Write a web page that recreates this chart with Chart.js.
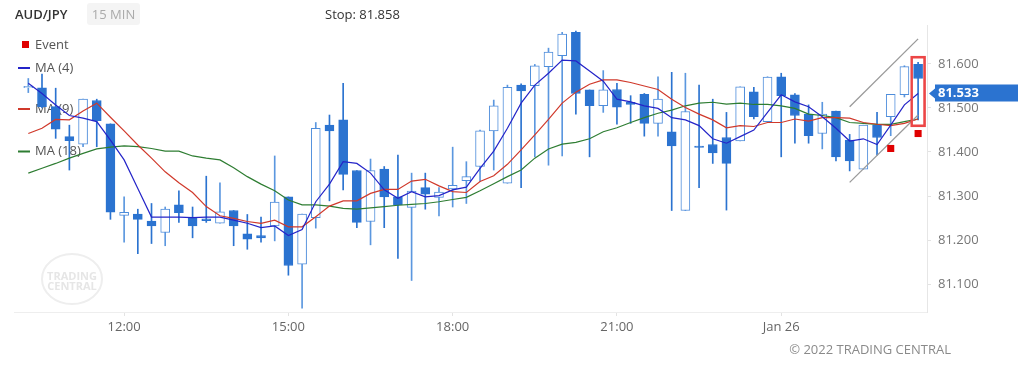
<!DOCTYPE html>
<html>
<head>
<meta charset="utf-8">
<script src="https://cdn.jsdelivr.net/npm/chart.js@4.4.1/dist/chart.umd.min.js"></script>
<style>
  html, body { margin: 0; padding: 0; background: #fff; }
  body { width: 1018px; height: 367px; position: relative; overflow: hidden; font-family: "Open Sans", sans-serif; }
  #chart { position: absolute; left: 0; top: 0; }
  .hd { position: absolute; top: 4px; height: 20px; line-height: 20px; font-size: 13px; color: #333; }
  #pair { left: 15px; font-weight: 600; }
  #tf { left: 87px; top: 3px; height: 22px; line-height: 22px; width: 53px; text-align: center; background: #f4f4f4; color: #aaa; border-radius: 3px; }
  #stop { left: 325px; }
  #copy { position: absolute; right: 67px; top: 340px; font-size: 13px; color: #8a8a8a; }
</style>
</head>
<body>
<canvas id="chart" width="1018" height="367"></canvas>
<div class="hd" id="pair">AUD/JPY</div>
<div class="hd" id="tf">15 MIN</div>
<div class="hd" id="stop">Stop: 81.858</div>
<div id="copy">© 2022 TRADING CENTRAL</div>
<script>
const categories = [
  "10:15","10:30","10:45","11:00","11:15","11:30","11:45","12:00","12:15","12:30","12:45","13:00",
  "13:15","13:30","13:45","14:00","14:15","14:30","14:45","15:00","15:15","15:30","15:45","16:00",
  "16:15","16:30","16:45","17:00","17:15","17:30","17:45","18:00","18:15","18:30","18:45","19:00",
  "19:15","19:30","19:45","20:00","20:15","20:30","20:45","21:00","21:15","21:30","21:45","22:00",
  "22:15","22:30","22:45","23:00","23:15","23:30","23:45","00:00","00:15","00:30","00:45","01:00",
  "01:15","01:30","01:45","02:00","02:15","02:30"
];

const opens = [81.546,81.546,81.503,81.435,81.418,81.517,81.464,81.256,81.259,81.243,81.217,81.280,
  81.249,81.248,81.238,81.267,81.214,81.210,81.232,81.298,81.145,81.251,81.461,81.473,
  81.358,81.242,81.361,81.298,81.274,81.319,81.297,81.316,81.335,81.367,81.448,81.329,
  81.552,81.551,81.594,81.619,81.672,81.541,81.505,81.542,81.513,81.531,81.465,81.446,
  81.267,81.413,81.417,81.433,81.425,81.537,81.469,81.571,81.530,81.486,81.442,81.493,
  81.427,81.361,81.461,81.480,81.530,81.599];
const highs = [81.567,81.577,81.545,81.461,81.520,81.520,81.464,81.298,81.270,81.283,81.275,81.312,
  81.275,81.345,81.330,81.267,81.258,81.252,81.391,81.298,81.259,81.467,81.484,81.556,
  81.358,81.384,81.367,81.393,81.352,81.352,81.319,81.411,81.378,81.450,81.518,81.552,
  81.555,81.599,81.636,81.672,81.675,81.541,81.585,81.556,81.528,81.533,81.571,81.581,
  81.579,81.552,81.520,81.490,81.548,81.547,81.571,81.579,81.533,81.507,81.513,81.493,
  81.440,81.461,81.490,81.531,81.596,81.604];
const lows = [81.535,81.500,81.431,81.359,81.412,81.412,81.247,81.195,81.169,81.192,81.187,81.240,
  81.205,81.240,81.238,81.187,81.179,81.195,81.198,81.120,81.045,81.227,81.289,81.314,
  81.228,81.189,81.228,81.158,81.108,81.270,81.255,81.275,81.283,81.333,81.359,81.329,
  81.319,81.389,81.370,81.391,81.486,81.389,81.490,81.463,81.465,81.436,81.436,81.267,
  81.267,81.319,81.374,81.268,81.425,81.475,81.469,81.389,81.420,81.420,81.407,81.380,
  81.357,81.361,81.393,81.437,81.525,81.473];
const closes = [81.549,81.503,81.452,81.426,81.520,81.471,81.263,81.263,81.247,81.232,81.270,81.262,
  81.232,81.244,81.264,81.232,81.202,81.205,81.286,81.142,81.259,81.454,81.448,81.349,
  81.240,81.358,81.298,81.280,81.311,81.304,81.309,81.324,81.344,81.448,81.505,81.547,
  81.539,81.596,81.627,81.668,81.533,81.505,81.541,81.502,81.508,81.465,81.520,81.414,
  81.492,81.411,81.398,81.374,81.548,81.480,81.570,81.528,81.483,81.437,81.486,81.389,
  81.380,81.461,81.433,81.531,81.594,81.567];

const ma4 = [81.556,81.533,81.507,81.483,81.477,81.469,81.427,81.382,81.317,81.252,81.252,81.252,
  81.251,81.252,81.252,81.245,81.238,81.228,81.232,81.210,81.224,81.287,81.327,
  81.378,81.374,81.352,81.314,81.295,81.310,81.298,81.301,81.314,81.320,81.363,81.402,
  81.454,81.511,81.552,81.579,81.609,81.607,81.584,81.561,81.520,81.514,81.505,81.499,
  81.478,81.473,81.460,81.430,81.420,81.435,81.450,81.490,81.530,81.514,81.503,
  81.480,81.454,81.425,81.430,81.417,81.461,81.507,81.533];
const ma9 = [81.442,81.454,81.474,81.473,81.493,81.511,81.479,81.448,81.416,81.386,81.355,81.330,
  81.308,81.276,81.255,81.249,81.242,81.238,81.245,81.230,81.230,81.253,81.277,
  81.289,81.289,81.306,81.315,81.315,81.334,81.338,81.323,81.310,81.308,81.333,81.346,
  81.372,81.405,81.439,81.474,81.511,81.536,81.554,81.564,81.564,81.558,81.550,81.542,
  81.520,81.501,81.486,81.473,81.455,81.460,81.458,81.467,81.467,81.475,81.470,
  81.478,81.478,81.477,81.467,81.463,81.460,81.465,81.475];
const ma18 = [81.352,81.363,81.374,81.386,81.397,81.407,81.411,81.414,81.412,81.408,81.402,81.402,
  81.391,81.386,81.382,81.364,81.344,81.327,81.312,81.291,81.280,81.280,81.277,
  81.272,81.270,81.273,81.276,81.279,81.281,81.283,81.287,81.292,81.297,81.312,81.328,
  81.344,81.359,81.386,81.407,81.418,81.422,81.430,81.446,81.455,81.467,81.478,81.488,
  81.495,81.505,81.511,81.513,81.509,81.511,81.508,81.508,81.505,81.499,81.486,
  81.483,81.478,81.467,81.465,81.463,81.463,81.469,81.475];

const eventCats = ["02:00", "02:30"];
const eventValues = [81.408, 81.442];
const channelCats = ["01:15", "02:30"];
const channelUpper = [81.503, 81.657];
const channelLower = [81.331, 81.484];
const highlightCat = "02:30";
const highlightRange = [81.457, 81.618];
const lastPrice = 81.533;

const xTickCats = ["12:00", "15:00", "18:00", "21:00", "00:00"];
const xTickLabels = ["12:00", "15:00", "18:00", "21:00", "Jan 26"];
const yTicks = [81.1, 81.2, 81.3, 81.4, 81.5, 81.6];

const FILL = "#2b73d0";
const HOLLOW_EDGE = "#4e8ddb";
const HOLLOW_WICK = "#5b97df";

const idx = c => categories.indexOf(c);
const up = categories.map((c, i) => closes[i] >= opens[i]);

const bodies = categories.map((c, i) => {
  let lo = Math.min(opens[i], closes[i]);
  let hi = Math.max(opens[i], closes[i]);
  if (hi - lo < 0.003) { const m = (hi + lo) / 2; lo = m - 0.0015; hi = m + 0.0015; }
  return { x: i, y: [lo, hi] };
});
const wicks = categories.map((c, i) => ({ x: i, y: [lows[i], highs[i]] }));
const line = arr => arr.map((v, i) => ({ x: i, y: v }));

const sideDecor = {
  id: "sideDecor",
  beforeDatasetsDraw(chart) {
    const ctx = chart.ctx;
    ctx.save();
    // watermark
    ctx.strokeStyle = "#eeeeee";
    ctx.lineWidth = 2;
    ctx.beginPath();
    ctx.ellipse(72, 279, 30, 25, 0, 0, Math.PI * 2);
    ctx.stroke();
    ctx.fillStyle = "#e6e6e6";
    ctx.font = "bold 11px 'Open Sans'";
    ctx.textAlign = "center";
    ctx.textBaseline = "middle";
    ctx.fillText("TRADING", 72, 277);
    ctx.fillText("CENTRAL", 72, 287);
    // legend
    ctx.textAlign = "left";
    ctx.font = "13px 'Open Sans'";
    ctx.fillStyle = "#e00000";
    ctx.fillRect(22, 41, 7, 7);
    const items = [["MA (4)", "#2424c8", 68], ["MA (9)", "#d0392b", 109], ["MA (18)", "#2e7d32", 151.5]];
    items.forEach(([t, col, y]) => {
      ctx.fillStyle = col;
      ctx.fillRect(18, y - 1, 12, 2);
    });
    ctx.fillStyle = "#555";
    ctx.fillText("Event", 35, 45);
    items.forEach(([t, col, y]) => ctx.fillText(t, 35, y));
    ctx.restore();
  },
  afterDraw(chart) {
    const ctx = chart.ctx;
    const y = chart.scales.y.getPixelForValue(lastPrice);
    ctx.save();
    ctx.fillStyle = FILL;
    ctx.beginPath();
    ctx.moveTo(929, y);
    ctx.lineTo(935, y - 5);
    ctx.lineTo(935, y - 9);
    ctx.lineTo(1018, y - 9);
    ctx.lineTo(1018, y + 8);
    ctx.lineTo(935, y + 8);
    ctx.lineTo(935, y + 5);
    ctx.closePath();
    ctx.fill();
    ctx.fillStyle = "#fff";
    ctx.font = "bold 13px 'Open Sans'";
    ctx.textBaseline = "middle";
    ctx.fillText(lastPrice.toFixed(3), 938, y);
    ctx.restore();
  }
};

new Chart(document.getElementById("chart"), {
  type: "bar",
  data: {
    datasets: [
      {
        type: "bar", data: wicks, order: 10, grouped: false, barThickness: 1,
        backgroundColor: up.map(u => u ? HOLLOW_WICK : FILL)
      },
      {
        type: "bar", data: bodies, order: 9, grouped: false, barThickness: 9,
        backgroundColor: up.map(u => u ? "#ffffff" : FILL),
        borderColor: up.map(u => u ? HOLLOW_EDGE : FILL),
        borderWidth: 1, borderSkipped: false
      },
      {
        type: "line", data: line(ma18), order: 5, borderColor: "#2e7d32",
        borderWidth: 1.2, pointRadius: 0, tension: 0
      },
      {
        type: "line", data: line(ma9), order: 4, borderColor: "#d0392b",
        borderWidth: 1.2, pointRadius: 0, tension: 0
      },
      {
        type: "line", data: line(ma4), order: 3, borderColor: "#2424c8",
        borderWidth: 1.2, pointRadius: 0, tension: 0
      },
      {
        type: "line", data: channelCats.map((c, i) => ({ x: idx(c), y: channelUpper[i] })), order: 2,
        borderColor: "#9a9a9a", borderWidth: 1.3, pointRadius: 0
      },
      {
        type: "line", data: channelCats.map((c, i) => ({ x: idx(c), y: channelLower[i] })), order: 2,
        borderColor: "#9a9a9a", borderWidth: 1.3, pointRadius: 0
      },
      {
        type: "bar", data: [{ x: idx(highlightCat), y: highlightRange }], order: 1, grouped: false,
        barThickness: 15, backgroundColor: "rgba(255,255,255,0)", borderColor: "#ec4646",
        borderWidth: 2, borderSkipped: false
      },
      {
        type: "scatter", data: eventCats.map((c, i) => ({ x: idx(c), y: eventValues[i] })), order: 0,
        pointStyle: "rect", pointRadius: 5, backgroundColor: "#e00000", borderWidth: 0
      }
    ]
  },
  options: {
    responsive: false,
    animation: false,
    devicePixelRatio: 1,
    layout: { padding: { left: 14, top: 25, right: 0, bottom: 0 } },
    plugins: { legend: { display: false }, tooltip: { enabled: false } },
    scales: {
      x: {
        type: "linear", min: -1.045, max: 65.65, offset: false,
        afterFit: s => { s.height = 55; },
        afterBuildTicks: s => { s.ticks = xTickCats.map(c => ({ value: idx(c) })); },
        ticks: {
          autoSkip: false, maxRotation: 0, padding: 3, color: "#666",
          font: { family: "Open Sans", size: 13 },
          callback: v => { const k = xTickCats.indexOf(categories[v]); return k >= 0 ? xTickLabels[k] : ""; }
        },
        grid: { drawOnChartArea: false, tickLength: 4, color: "#e3e3e3", offset: false },
        border: { color: "#eeeeee" }
      },
      y: {
        position: "right", min: 81.0364, max: 81.6886,
        afterFit: s => { s.width = 91; },
        afterBuildTicks: s => { s.ticks = yTicks.map(v => ({ value: v })); },
        ticks: {
          padding: 7, color: "#777",
          font: { family: "Open Sans", size: 13 },
          callback: v => Number(v).toFixed(3)
        },
        grid: { drawOnChartArea: false, tickLength: 4, color: "#e3e3e3" },
        border: { color: "#e6e6e6" }
      }
    }
  },
  plugins: [sideDecor]
});
</script>
</body>
</html>
